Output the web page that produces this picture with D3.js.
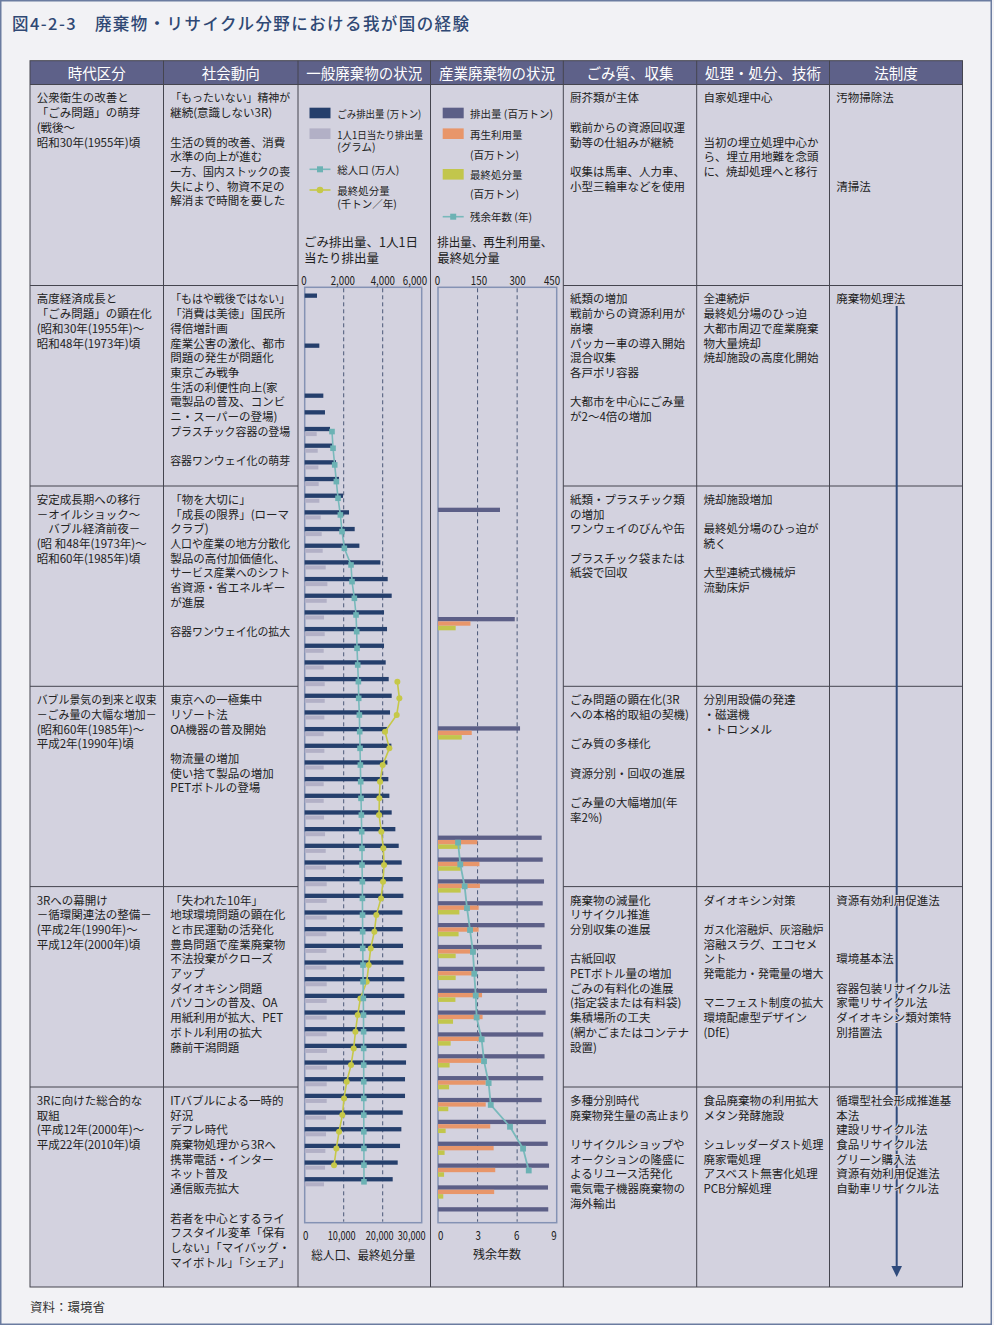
<!DOCTYPE html>
<html><head><meta charset="utf-8">
<script src="https://cdn.jsdelivr.net/npm/d3@7"></script>
<style>
body{margin:0;background:#f2f2f5;}
svg{display:block;font-family:"Noto Sans CJK JP","Noto Sans",sans-serif;}
</style></head><body>
<svg id="c" width="994" height="1325"></svg>
<script>
// ---------------- DATA ----------------
const titleText = "図4-2-3　廃棄物・リサイクル分野における我が国の経験";
const headers = ["時代区分","社会動向","一般廃棄物の状況","産業廃棄物の状況","ごみ質、収集","処理・処分、技術","法制度"];
const sourceText = "資料：環境省";

// 一般廃棄物
const genYears = [1957,1960,1963,1964,1965,1966,1967,1968,1969,1970,1971,1972,1973,1974,1975,1976,1977,1978,1979,1980,1981,1982,1983,1984,1985,1986,1987,1988,1989,1990,1991,1992,1993,1994,1995,1996,1997,1998,1999,2000,2001,2002,2003,2004,2005,2006,2007,2008,2009,2010];
const genWaste = [631,750,955,1040,1298,1419,1606,1760,1965,2273,2564,2804,3880,4256,4461,4068,4222,4068,4154,4308,4461,4376,4239,4444,4239,4290,4342,4461,4649,4821,4974,5026,5060,5009,5026,5043,5060,5111,5111,5145,5128,5231,5197,5145,5145,5026,4957,4889,4769,4513];
const genPerCapita = [null,null,null,null,615,667,701,718,752,820,872,923,1077,1162,1128,991,1026,974,974,1026,1026,1008,974,1008,974,974,974,991,1043,1077,1094,1128,1128,1128,1111,1111,1111,1128,1128,1128,1128,1145,1145,1128,1128,1094,1094,1060,1043,991];
const popYears = [1965,1966,1967,1968,1969,1970,1971,1972,1973,1974,1975,1976,1977,1978,1979,1980,1981,1982,1983,1984,1985,1986,1987,1988,1989,1990,1991,1992,1993,1994,1995,1996,1997,1998,1999,2000,2001,2002,2003,2004,2005,2006,2007,2008,2009,2010];
const popValues = [7000,7264,7692,8120,8547,9145,9573,10171,11880,12137,12735,13162,13333,13419,13590,13761,13846,14017,14103,14188,14274,14359,14444,14530,14615,14701,14701,14786,14800,14830,14860,14880,14950,14970,15030,15080,15100,15120,15130,15140,15150,15150,15160,15180,15190,15200];
const finalYears = [1980,1981,1982,1983,1984,1985,1986,1987,1988,1989,1990,1991,1992,1993,1994,1995,1996,1997,1998,1999,2000,2001,2002,2003,2004,2005,2006,2007,2008,2009];
const finalValues = [23761,24274,23590,20598,21709,20000,19316,19145,19060,19658,20171,20342,20085,19573,18376,17863,16923,16410,15897,14274,13590,13000,12564,11880,10769,10085,9658,8803,8120,7521];
const genTopTicks = [0,2000,4000,6000];
const genBottomTicks = [0,10000,20000,30000];

// 産業廃棄物
const indYears = [1975,1980,1985,1990,1991,1992,1993,1994,1995,1996,1997,1998,1999,2000,2001,2002,2003,2004,2005,2006,2007];
const indWaste = [235,291,311,393,397,402,397,404,393,404,413,408,399,404,399,393,409,416,421,417,418];
const indRecycle = [null,123,128,149,157,159,154,154,143,143,167,169,159,164,181,181,198,211,217,213,null];
const indFinal = [null,67,90,86,86,86,81,78,67,67,66,57,48,44,42,39,29,25,23,20,null];
const resYears = [1990,1991,1992,1993,1994,1995,1996,1997,1998,1999,2000,2001,2002,2003,2004,2005];
const resValues = [1.52,1.69,2.02,2.20,2.43,2.65,2.75,2.86,2.93,3.31,3.49,3.84,4.00,5.46,6.45,6.88];
const indTopTicks = [0,150,300,450];
const indBottomTicks = [0,3,6,9];

// cell texts
const col1 = [
 ["公衆衛生の改善と","「ごみ問題」の萌芽"," (戦後～","昭和30年(1955年)頃"],
 ["高度経済成長と","「ごみ問題」の顕在化","(昭和30年(1955年)～","昭和48年(1973年)頃"],
 ["安定成長期への移行","－オイルショック～","　バブル経済前夜－","(昭 和48年(1973年)～","昭和60年(1985年)頃"],
 ["バブル景気の到来と収束","－ごみ量の大幅な増加－","(昭和60年(1985年)～","平成2年(1990年)頃"],
 ["3Rへの幕開け","－循環関連法の整備－","(平成2年(1990年)～","平成12年(2000年)頃"],
 ["3Rに向けた総合的な","取組","(平成12年(2000年)～","平成22年(2010年)頃"]
];
const col2 = [
 ["「もったいない」精神が","継続(意識しない3R)","","生活の質的改善、消費","水準の向上が進む","一方、国内ストックの喪","失により、物資不足の","解消まで時間を要した"],
 ["「もはや戦後ではない」","「消費は美徳」国民所","得倍増計画","産業公害の激化、都市","問題の発生が問題化","東京ごみ戦争","生活の利便性向上(家","電製品の普及、コンビ","ニ・スーパーの登場)","プラスチック容器の登場","","容器ワンウェイ化の萌芽"],
 ["「物を大切に」","「成長の限界」(ローマ","クラブ)","人口や産業の地方分散化","製品の高付加価値化、","サービス産業へのシフト","省資源・省エネルギー","が進展","","容器ワンウェイ化の拡大"],
 ["東京への一極集中","リゾート法","OA機器の普及開始","","物流量の増加","使い捨て製品の増加","PETボトルの登場"],
 ["「失われた10年」","地球環境問題の顕在化","と市民運動の活発化","豊島問題で産業廃棄物","不法投棄がクローズ","アップ","ダイオキシン問題","パソコンの普及、OA","用紙利用が拡大、PET","ボトル利用の拡大","藤前干潟問題"],
 ["ITバブルによる一時的","好況","デフレ時代","廃棄物処理から3Rへ","携帯電話・インター","ネット普及","通信販売拡大","","若者を中心とするライ","フスタイル変革「保有","しない」「マイバッグ・","マイボトル」「シェア」"]
];
const col5 = [
 ["厨芥類が主体","","戦前からの資源回収運","動等の仕組みが継続","","収集は馬車、人力車、","小型三輪車などを使用"],
 ["紙類の増加","戦前からの資源利用が","崩壊","パッカー車の導入開始","混合収集","各戸ポリ容器","","大都市を中心にごみ量","が2～4倍の増加"],
 ["紙類・プラスチック類","の増加","ワンウェイのびんや缶","","プラスチック袋または","紙袋で回収"],
 ["ごみ問題の顕在化(3R","への本格的取組の契機)","","ごみ質の多様化","","資源分別・回収の進展","","ごみ量の大幅増加(年","率2%)"],
 ["廃棄物の減量化","リサイクル推進","分別収集の進展","","古紙回収","PETボトル量の増加","ごみの有料化の進展","(指定袋または有料袋)","集積場所の工夫","(網かごまたはコンテナ","設置)"],
 ["多種分別時代","廃棄物発生量の高止まり","","リサイクルショップや","オークションの隆盛に","よるリユース活発化","電気電子機器廃棄物の","海外輸出"]
];
const col6 = [
 ["自家処理中心","","","当初の埋立処理中心か","ら、埋立用地難を念頭","に、焼却処理へと移行"],
 ["全連続炉","最終処分場のひっ迫","大都市周辺で産業廃棄","物大量焼却","焼却施設の高度化開始"],
 ["焼却施設増加","","最終処分場のひっ迫が","続く","","大型連続式機械炉","流動床炉"],
 ["分別用設備の発達","・磁選機","・トロンメル"],
 ["ダイオキシン対策","","ガス化溶融炉、灰溶融炉","溶融スラグ、エコセメ","ント","発電能力・発電量の増大","","マニフェスト制度の拡大","環境配慮型デザイン","(DfE)"],
 ["食品廃棄物の利用拡大","メタン発酵施設","","シュレッダーダスト処理","廃家電処理","アスベスト無害化処理","PCB分解処理"]
];
const col7 = [
 ["汚物掃除法","","","","","","清掃法"],
 ["廃棄物処理法"],
 [],
 [],
 ["資源有効利用促進法","","","","環境基本法","","容器包装リサイクル法","家電リサイクル法","ダイオキシン類対策特","別措置法"],
 ["循環型社会形成推進基","本法","建設リサイクル法","食品リサイクル法","グリーン購入法","資源有効利用促進法","自動車リサイクル法"]
];

// ---------------- LAYOUT / STYLE ----------------
const C = {
  bg:"#f2f2f5", cell:"#d3d2df", head:"#5e6189", grid:"#45454f", text:"#222",
  genDark:"#253f6c", genLight:"#b2b0c6", teal:"#6cb2b4", tealLine:"#78b9bb", yellow:"#c6c848",
  indDark:"#5c5f87", orange:"#e8966a", indYellow:"#c2c64c", box:"#8492b4", dash:"#4a5878", arrow:"#2f4b7c"
};
const colX = [30,163.5,298,430.5,563.3,696.7,829.5,962.5];
const rowY = [84.5,285.5,486,686.3,886.6,1087,1287];
const headTop = 60.7;
const plotTop = 287.3, plotBottom = 1222.7;

const svg = d3.select("#c");
svg.append("rect").attr("width",994).attr("height",1325).attr("fill",C.bg);
svg.append("rect").attr("x",0.75).attr("y",0.75).attr("width",990.5).attr("height",1323.5)
  .attr("fill","none").attr("stroke","#6b7ca0").attr("stroke-width",1.5);

// title
svg.append("text").attr("x",12).attr("y",23).attr("dominant-baseline","central")
  .attr("font-size",16.5).attr("font-weight",500).attr("fill","#2f4874").attr("textLength",457).attr("lengthAdjust","spacing")
  .text(titleText);

// table background
svg.append("rect").attr("x",colX[0]).attr("y",rowY[0]).attr("width",colX[7]-colX[0]).attr("height",rowY[6]-rowY[0]).attr("fill",C.cell);
svg.append("rect").attr("x",colX[0]).attr("y",headTop).attr("width",colX[7]-colX[0]).attr("height",rowY[0]-headTop).attr("fill",C.head);
headers.forEach((h,i)=>{
  svg.append("text").attr("x",(colX[i]+colX[i+1])/2).attr("y",(headTop+rowY[0])/2)
    .attr("text-anchor","middle").attr("dominant-baseline","central").attr("font-size",14.5).attr("fill","#fff").text(h);
});
// grid lines
const gl = svg.append("g").attr("stroke",C.grid).attr("stroke-width",1).attr("fill","none");
gl.append("rect").attr("x",colX[0]).attr("y",headTop).attr("width",colX[7]-colX[0]).attr("height",rowY[6]-headTop);
colX.slice(1,7).forEach(x=>gl.append("line").attr("x1",x).attr("x2",x).attr("y1",headTop).attr("y2",rowY[6]));
gl.append("line").attr("x1",colX[0]).attr("x2",colX[7]).attr("y1",rowY[0]).attr("y2",rowY[0]);
rowY.slice(1,6).forEach(y=>{
  gl.append("line").attr("x1",colX[0]).attr("x2",colX[2]).attr("y1",y).attr("y2",y);
  gl.append("line").attr("x1",colX[4]).attr("x2",colX[7]).attr("y1",y).attr("y2",y);
});

// arrow in law column
const ax = 896.7;
svg.append("line").attr("x1",ax).attr("x2",ax).attr("y1",306).attr("y2",1268).attr("stroke",C.arrow).attr("stroke-width",2);
svg.append("path").attr("d",`M${ax-5.3},1266 L${ax+5.3},1266 L${ax},1277 Z`).attr("fill",C.arrow);

// cell text helper
function fitText(sel,maxW){
  sel.each(function(){const w=this.getComputedTextLength(); if(w>maxW){d3.select(this).attr("textLength",maxW).attr("lengthAdjust","spacingAndGlyphs");}});
}
function cellText(ci, rows){
  rows.forEach((lines,r)=>{
    lines.forEach((t,i)=>{
      if(!t) return;
      const el = svg.append("text").attr("x",colX[ci]+6.7).attr("y",rowY[r]+12.9+i*14.7)
        .attr("dominant-baseline","central").attr("font-size",11.5).attr("fill",C.text)
        .attr("stroke",C.cell).attr("stroke-width",2.2).attr("paint-order","stroke").text(t);
      fitText(el,120);
    });
  });
}
cellText(0,col1); cellText(1,col2); cellText(4,col5); cellText(5,col6); cellText(6,col7);

// ---------------- CHARTS ----------------
const xGen = d3.scaleLinear().domain([0,6000]).range([304.7,421.7]);
const xGen2 = d3.scaleLinear().domain([0,30000]).range([304.7,421.7]);
const yGen = d3.scaleLinear().domain([1957,2010]).range([295.7,1179.3]);
const xInd = d3.scaleLinear().domain([0,450]).range([438,556.7]);
const xInd2 = d3.scaleLinear().domain([0,9]).range([438,556.7]);
const yInd = d3.scaleLinear().domain([1975,2007]).range([509.7,1209.2]);

function plotBox(x0,x1,gridVals,xs){
  svg.append("rect").attr("x",x0).attr("y",plotTop).attr("width",x1-x0).attr("height",plotBottom-plotTop)
    .attr("fill","none").attr("stroke",C.box).attr("stroke-width",1.5);
  svg.selectAll(null).data(gridVals).enter().append("line")
    .attr("x1",d=>xs(d)).attr("x2",d=>xs(d)).attr("y1",plotTop+1).attr("y2",plotBottom-1)
    .attr("stroke",C.dash).attr("stroke-width",1).attr("stroke-dasharray","4,3");
}
plotBox(xGen(0),xGen(6000),[2000,4000],xGen);
plotBox(xInd(0),xInd(450),[150,300],xInd);

// general waste bars
const gen = genYears.map((y,i)=>({y, w:genWaste[i], p:genPerCapita[i]}));
svg.selectAll(null).data(gen).enter().append("rect")
  .attr("x",xGen(0)).attr("y",d=>yGen(d.y)-2.2).attr("width",d=>xGen(d.w)-xGen(0)).attr("height",4.3).attr("fill",C.genDark);
svg.selectAll(null).data(gen.filter(d=>d.p!=null)).enter().append("rect")
  .attr("x",xGen(0)).attr("y",d=>yGen(d.y)+3).attr("width",d=>xGen(d.p)-xGen(0)).attr("height",4).attr("fill",C.genLight);

// final disposal line
const fin = finalYears.map((y,i)=>({y,v:finalValues[i]}));
svg.append("path").datum(fin).attr("fill","none").attr("stroke",C.yellow).attr("stroke-width",1.6)
  .attr("d",d3.line().x(d=>xGen2(d.v)).y(d=>yGen(d.y)+2.5));
svg.selectAll(null).data(fin).enter().append("circle")
  .attr("cx",d=>xGen2(d.v)).attr("cy",d=>yGen(d.y)+2.5).attr("r",3).attr("fill",C.yellow);
// population line
const pop = popYears.map((y,i)=>({y,v:popValues[i]}));
svg.append("path").datum(pop).attr("fill","none").attr("stroke",C.tealLine).attr("stroke-width",1.6)
  .attr("d",d3.line().x(d=>xGen2(d.v)).y(d=>yGen(d.y)+2.5));
svg.selectAll(null).data(pop).enter().append("rect")
  .attr("x",d=>xGen2(d.v)-2.8).attr("y",d=>yGen(d.y)+2.5-2.8).attr("width",5.6).attr("height",5.6).attr("fill",C.teal);

// industrial bars
const ind = indYears.map((y,i)=>({y,w:indWaste[i],r:indRecycle[i],f:indFinal[i]}));
svg.selectAll(null).data(ind).enter().append("rect")
  .attr("x",xInd(0)).attr("y",d=>yInd(d.y)-2).attr("width",d=>xInd(d.w)-xInd(0)).attr("height",4.3).attr("fill",C.indDark);
svg.selectAll(null).data(ind.filter(d=>d.r!=null)).enter().append("rect")
  .attr("x",xInd(0)).attr("y",d=>yInd(d.y)+2.4).attr("width",d=>xInd(d.r)-xInd(0)).attr("height",4.3).attr("fill",C.orange);
svg.selectAll(null).data(ind.filter(d=>d.f!=null)).enter().append("rect")
  .attr("x",xInd(0)).attr("y",d=>yInd(d.y)+6.8).attr("width",d=>xInd(d.f)-xInd(0)).attr("height",4.5).attr("fill",C.indYellow);
const res = resYears.map((y,i)=>({y,v:resValues[i]}));
svg.append("path").datum(res).attr("fill","none").attr("stroke",C.tealLine).attr("stroke-width",1.8)
  .attr("d",d3.line().x(d=>xInd2(d.v)).y(d=>yInd(d.y)+5));
svg.selectAll(null).data(res).enter().append("rect")
  .attr("x",d=>xInd2(d.v)-2.9).attr("y",d=>yInd(d.y)+5-2.9).attr("width",5.8).attr("height",5.8).attr("fill",C.teal);

// axes (labels only) — narrow labels via horizontal scale transform
function axisLabels(scale,ticks,fmt,y,dxs,maxW){
  const g = svg.append("g").attr("transform",`translate(0,${y})`)
    .call(d3.axisTop(scale).tickValues(ticks).tickSize(0).tickFormat(fmt));
  g.attr("font-family",null).attr("font-size",12.5);
  g.select(".domain").remove();
  g.selectAll("text").attr("y",0).attr("dy",null).attr("dominant-baseline","central").attr("fill",C.text)
    .each(function(d,i){
      const w=this.getComputedTextLength();
      const k=Math.min(0.78,maxW/w);
      d3.select(this).attr("transform",`scale(${k},1)`).attr("dx",dxs[i]/k);
    });
}
axisLabels(xGen,genTopTicks,d3.format(","),279,[-1.2,-1.4,-0.4,-7.2],25);
axisLabels(xGen2,genBottomTicks,d3.format(","),1234.3,[0.5,-2.5,-3.5,-10.5],28);
axisLabels(xInd,indTopTicks,d3.format("d"),279,[-1,0.9,-0.1,-5.2],20);
axisLabels(xInd2,indBottomTicks,d3.format("d"),1234.3,[2.2,0.2,-0.9,-3.2],8);

// axis titles
function label(x,y,t,size,anchor,maxW){
  const el = svg.append("text").attr("x",x).attr("y",y).attr("dominant-baseline","central")
    .attr("font-size",size).attr("fill",C.text).attr("text-anchor",anchor||"start").text(t);
  if(maxW) fitText(el,maxW);
  return el;
}
label(304,241,"ごみ排出量、1人1日",12.5,"start",118);
label(304,257.7,"当たり排出量",12.5,"start",118);
label(437.3,241,"排出量、再生利用量、",12.5,"start",115);
label(437.3,257.7,"最終処分量",12.5,"start",115);
label(363.3,1254.3,"総人口、最終処分量",12,"middle",104);
label(497,1253.5,"残余年数",12,"middle");

// legends
function legendRect(x,yc,color){svg.append("rect").attr("x",x).attr("y",yc-5.3).attr("width",21).attr("height",10.6).attr("fill",color);}
function legendLine(x,yc,color,marker){
  svg.append("line").attr("x1",x).attr("x2",x+21).attr("y1",yc).attr("y2",yc).attr("stroke",color).attr("stroke-width",1.6);
  if(marker==="sq") svg.append("rect").attr("x",x+10.5-3).attr("y",yc-3).attr("width",6).attr("height",6).attr("fill",C.teal);
  else svg.append("circle").attr("cx",x+10.5).attr("cy",yc).attr("r",3.3).attr("fill",color);
}
legendRect(309.5,113,C.genDark); label(337.3,113,"ごみ排出量 (万トン)",10.5,"start",84);
legendRect(309.5,133.7,C.genLight); label(337.3,134,"1人1日当たり排出量",10.5,"start",86); label(337.3,146.7,"(グラム)",10.5);
legendLine(309.5,169.3,C.tealLine,"sq"); label(337.3,169.3,"総人口 (万人)",10.5);
legendLine(309.5,190,C.yellow,"ci"); label(337.3,190,"最終処分量",10.5); label(337.3,203.3,"(千トン／年)",10.5);

legendRect(442.7,113,C.indDark); label(470,113,"排出量 (百万トン)",10.5,"start",84);
legendRect(442.7,133.7,C.orange); label(470,134,"再生利用量",10.5); label(470,154,"(百万トン)",10.5);
legendRect(442.7,174.3,C.indYellow); label(470,174.3,"最終処分量",10.5); label(470,193.3,"(百万トン)",10.5);
legendLine(442.7,216.7,C.tealLine,"sq"); label(470,216.7,"残余年数 (年)",10.5);

// source
label(30,1306.5,sourceText,12.5).attr("fill","#333");
</script>
</body></html>
